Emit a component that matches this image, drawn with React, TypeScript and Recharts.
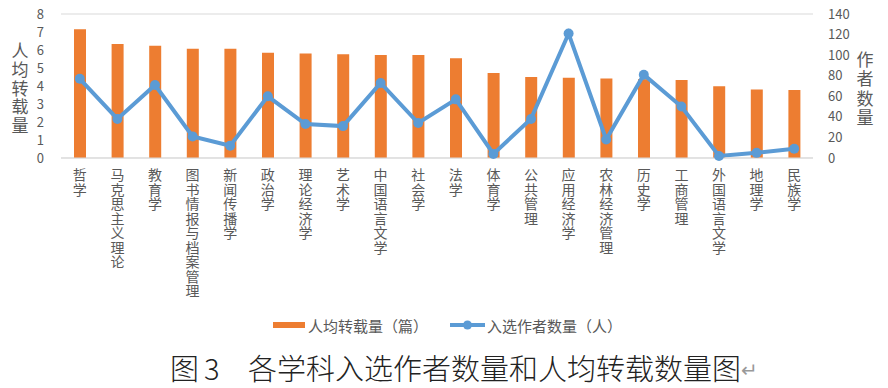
import React from "react";
import {
  ComposedChart,
  Bar,
  Line,
  XAxis,
  YAxis,
  CartesianGrid,
} from "recharts";

const categories = [
  "哲学",
  "马克思主义理论",
  "教育学",
  "图书情报与档案管理",
  "新闻传播学",
  "政治学",
  "理论经济学",
  "艺术学",
  "中国语言文学",
  "社会学",
  "法学",
  "体育学",
  "公共管理",
  "应用经济学",
  "农林经济管理",
  "历史学",
  "工商管理",
  "外国语言文学",
  "地理学",
  "民族学",
];

const perCapitaReprints = [
  7.15, 6.33, 6.24, 6.07, 6.07, 5.85, 5.8, 5.76, 5.72, 5.72, 5.54, 4.72, 4.5,
  4.46, 4.41, 4.38, 4.33, 3.98, 3.81, 3.78,
];

const authorCounts = [
  77, 38, 71, 21, 12, 60, 33, 31, 73, 34, 57, 4, 38, 121, 18, 81, 50, 2, 5, 9,
];

const leftTicks = [0, 1, 2, 3, 4, 5, 6, 7, 8];
const rightTicks = [0, 20, 40, 60, 80, 100, 120, 140];

const barName = "人均转载量（篇）";
const lineName = "入选作者数量（人）";
const leftTitle = "人均转载量";
const rightTitle = "作者数量";

const data = categories.map((name, i) => ({
  name,
  perCapita: perCapitaReprints[i],
  authors: authorCounts[i],
}));

const FONT = '"Noto Sans CJK SC", "Noto Sans", sans-serif';
const GRAY = "#595959";
const ORANGE = "#ED7D31";
const BLUE = "#5B9BD5";

const CategoryTick = (props: any) => {
  const { x, payload } = props;
  return (
    <text
      x={x}
      y={168}
      fontSize={14}
      fill={GRAY}
      fontFamily={FONT}
      style={{ writingMode: "vertical-rl", letterSpacing: 0.5 } as any}
    >
      {String(payload.value)}
    </text>
  );
};

const VerticalTitle = ({
  text,
  x,
  y,
  spacing,
}: {
  text: string;
  x: number;
  y: number;
  spacing: number;
}) => (
  <text
    x={x}
    y={y}
    fontSize={17}
    fill={GRAY}
    fontFamily={FONT}
    style={{ writingMode: "vertical-rl", letterSpacing: spacing } as any}
  >
    {text}
  </text>
);

export default function App() {
  return (
    <div
      style={{
        position: "absolute",
        left: 0,
        top: 0,
        width: 888,
        height: 388,
        background: "#fff",
        fontFamily: FONT,
      }}
    >
      <ComposedChart
        width={888}
        height={300}
        data={data}
        margin={{ top: 14, right: 0, bottom: 0, left: 0 }}
      >
        <CartesianGrid vertical={false} stroke="#D9D9D9" />
        <XAxis
          dataKey="name"
          interval={0}
          tickLine={false}
          axisLine={{ stroke: "#D9D9D9" }}
          height={142}
          tick={<CategoryTick />}
        />
        <YAxis
          yAxisId="left"
          orientation="left"
          width={61}
          domain={[0, 8]}
          ticks={leftTicks}
          interval={0}
          tickLine={false}
          axisLine={false}
          tickMargin={11}
          tick={{ fontSize: 13, fill: GRAY, fontFamily: FONT }}
        />
        <YAxis
          yAxisId="right"
          orientation="right"
          width={75}
          domain={[0, 140]}
          ticks={rightTicks}
          interval={0}
          tickLine={false}
          axisLine={false}
          tickMargin={9}
          tick={{ fontSize: 13, fill: GRAY, fontFamily: FONT }}
        />
        <Bar
          yAxisId="left"
          dataKey="perCapita"
          name={barName}
          fill={ORANGE}
          barSize={12}
          isAnimationActive={false}
        />
        <Line
          yAxisId="right"
          dataKey="authors"
          name={lineName}
          type="linear"
          stroke={BLUE}
          strokeWidth={4}
          dot={{ r: 5, fill: BLUE, stroke: BLUE, strokeWidth: 0 }}
          activeDot={false}
          isAnimationActive={false}
        />
        <VerticalTitle text={leftTitle} x={20} y={42} spacing={1.8} />
        <VerticalTitle text={rightTitle} x={865} y={51} spacing={2.3} />
      </ComposedChart>
      <svg
        width={888}
        height={88}
        style={{ position: "absolute", left: 0, top: 300 }}
      >
        <rect x={273} y={22} width={32} height={6} fill={ORANGE} />
        <text
          x={308}
          y={25}
          dominantBaseline="central"
          fontSize={15}
          fill={GRAY}
          fontFamily={FONT}
        >
          {barName}
        </text>
        <line x1={450} y1={25} x2={485} y2={25} stroke={BLUE} strokeWidth={4} />
        <circle cx={467.5} cy={25} r={4.5} fill={BLUE} />
        <text
          x={487}
          y={25}
          dominantBaseline="central"
          fontSize={15}
          fill={GRAY}
          fontFamily={FONT}
        >
          {lineName}
        </text>
        <text y={80} fontSize={29} fill="#222" fontFamily={FONT} fontWeight={300}>
          <tspan x={170}>图</tspan>
          <tspan x={204}>3</tspan>
          <tspan x={248}>各学科入选作者数量和人均转载数量图</tspan>
          <tspan fontSize={20} fill="#999" dy={-3}>
            ↵
          </tspan>
        </text>
      </svg>
    </div>
  );
}
